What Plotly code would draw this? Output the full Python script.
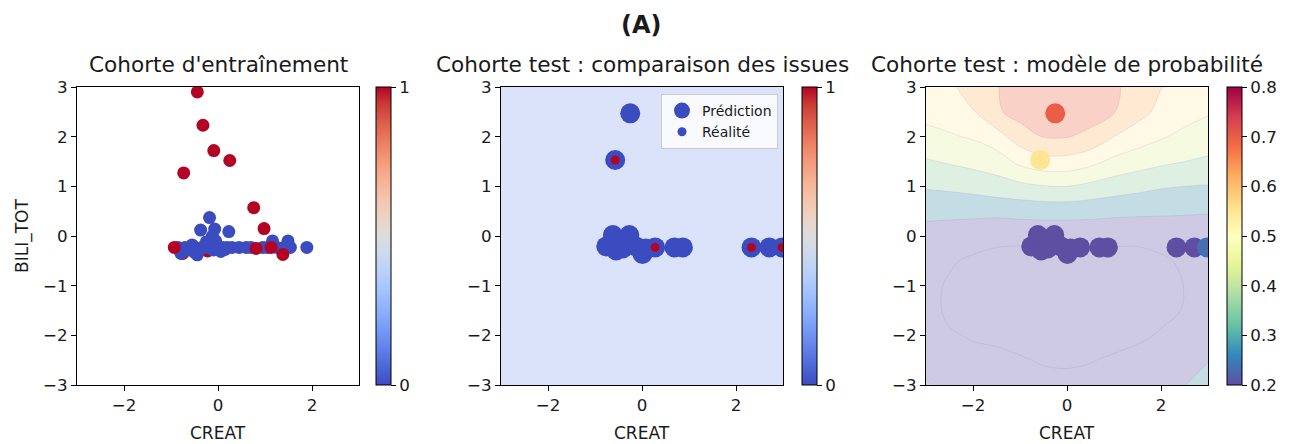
import numpy as np
import plotly.graph_objects as go

# ---------------- data ----------------
# Training cohort (CREAT, BILI_TOT standardised) and outcome (0/1)
train_creat = [-0.75, -0.22,
               -0.18, -0.37, -0.07, 0.23, -0.12, -0.25, -0.05, 1.16, 1.49, 1.89, 1.54,
               -0.79, -0.44, 0.06, -0.40, -0.65, -0.50, -0.10, 0.15, -0.55,
               -0.85, -0.70, -0.60, -0.50, -0.35, -0.30, -0.20, -0.10, 0.00, 0.10,
               0.20, 0.30, 0.45, 0.60, 0.70, 0.95, 1.05, 1.25, 1.40,
               -0.44, -0.32, -0.09, 0.25, -0.73, 0.76, 0.98, -0.93, 0.81, 1.13, 1.38]
train_bili = [-0.35, -0.30,
              0.37, 0.12, 0.14, 0.09, 0.00, -0.12, -0.10, -0.10, -0.10, -0.23, -0.23,
              -0.35, -0.38, -0.31, -0.29, -0.28, -0.33, -0.28, -0.27, -0.18,
              -0.23, -0.23, -0.23, -0.23, -0.23, -0.23, -0.23, -0.23, -0.23, -0.23,
              -0.23, -0.23, -0.23, -0.23, -0.23, -0.23, -0.23, -0.23, -0.23,
              2.90, 2.23, 1.72, 1.52, 1.27, 0.57, 0.15, -0.23, -0.25, -0.23, -0.37]
train_outcome = [1, 1,
                 0, 0, 0, 0, 0, 0, 0, 0, 0, 0, 0,
                 0, 0, 0, 0, 0, 0, 0, 0, 0,
                 0, 0, 0, 0, 0, 0, 0, 0, 0, 0,
                 0, 0, 0, 0, 0, 0, 0, 0, 0,
                 1, 1, 1, 1, 1, 1, 1, 1, 1, 1, 1]

# Test cohort
test_creat = [-0.25, -0.57, -0.76, -0.62, -0.27, -0.55, -0.41, -0.13, 0.01, 0.08,
              0.28, 0.69, 0.87, 2.33, 2.71, 2.98]
test_bili = [2.47, 1.53, -0.21, 0.02, 0.02, -0.29, -0.25, -0.21, -0.36, -0.25,
             -0.23, -0.23, -0.23, -0.23, -0.23, -0.23]
test_pred = [0, 0, 0, 0, 0, 0, 0, 0, 0, 0, 0, 0, 0, 0, 0, 0]
test_outcome = [0, 1, 0, 0, 0, 0, 0, 0, 0, 0, 1, 0, 0, 1, 0, 1]
test_prob = [0.70, 0.55, 0.15, 0.16, 0.16, 0.14, 0.14, 0.14, 0.13, 0.13,
             0.13, 0.14, 0.15, 0.19, 0.20, 0.235]

# Probability surface (model), estimated on a coarse grid
grid_creat = [-3.0, -2.5, -2.0, -1.5, -1.0, -0.5, 0.0, 0.5, 1.0, 1.5, 2.0, 2.5, 3.0]
grid_bili = [-3.0, -2.5, -2.0, -1.5, -1.0, -0.5, 0.0, 0.5, 1.0, 1.5, 2.0, 2.5, 3.0]
# one list per CREAT value, listed along BILI_TOT from -3 to 3
prob_by_creat = [
    [0.21, 0.16, 0.13, 0.12, 0.125, 0.14, 0.165, 0.225, 0.31, 0.39, 0.47, 0.53, 0.58],
    [0.17, 0.13, 0.105, 0.09, 0.09, 0.11, 0.155, 0.225, 0.32, 0.41, 0.49, 0.545, 0.585],
    [0.15, 0.115, 0.095, 0.075, 0.07, 0.085, 0.145, 0.225, 0.335, 0.43, 0.51, 0.595, 0.635],
    [0.16, 0.13, 0.075, 0.05, 0.045, 0.065, 0.13, 0.225, 0.36, 0.45, 0.56, 0.685, 0.695],
    [0.14, 0.11, 0.06, 0.04, 0.035, 0.058, 0.128, 0.235, 0.375, 0.525, 0.65, 0.74, 0.745],
    [0.135, 0.09, 0.045, 0.03, 0.03, 0.055, 0.128, 0.24, 0.395, 0.565, 0.705, 0.765, 0.775],
    [0.13, 0.085, 0.04, 0.03, 0.035, 0.055, 0.13, 0.24, 0.40, 0.565, 0.705, 0.76, 0.78],
    [0.135, 0.095, 0.045, 0.03, 0.035, 0.057, 0.13, 0.235, 0.375, 0.53, 0.675, 0.745, 0.76],
    [0.15, 0.115, 0.06, 0.04, 0.04, 0.06, 0.13, 0.225, 0.35, 0.475, 0.60, 0.705, 0.715],
    [0.165, 0.135, 0.08, 0.05, 0.045, 0.06, 0.13, 0.22, 0.33, 0.445, 0.55, 0.635, 0.665],
    [0.175, 0.15, 0.11, 0.075, 0.065, 0.085, 0.14, 0.215, 0.31, 0.42, 0.51, 0.575, 0.603],
    [0.197, 0.175, 0.135, 0.105, 0.102, 0.115, 0.15, 0.21, 0.30, 0.40, 0.475, 0.54, 0.58],
    [0.25, 0.195, 0.15, 0.13, 0.13, 0.14, 0.16, 0.205, 0.295, 0.385, 0.45, 0.51, 0.56],
]

x_ticks = [-2, 0, 2]
y_ticks = [-3, -2, -1, 0, 1, 2, 3]
prob_ticks = [0.2, 0.3, 0.4, 0.5, 0.6, 0.7, 0.8]

# ---------------- styles ----------------
W, H = 1298, 444
FONT = "DejaVu Sans"
TXT = "#1a1a1a"
TICK_SIZE = 16.7

coolwarm = [
    [0.0, "rgb(59,76,192)"], [0.0625, "rgb(77,104,215)"], [0.125, "rgb(98,130,234)"],
    [0.1875, "rgb(119,154,247)"], [0.25, "rgb(141,176,254)"], [0.3125, "rgb(163,194,255)"],
    [0.375, "rgb(184,208,249)"], [0.4375, "rgb(204,217,238)"], [0.5, "rgb(221,221,221)"],
    [0.5625, "rgb(236,211,197)"], [0.625, "rgb(245,196,173)"], [0.6875, "rgb(247,177,148)"],
    [0.75, "rgb(244,154,123)"], [0.8125, "rgb(236,127,99)"], [0.875, "rgb(222,96,77)"],
    [0.9375, "rgb(203,62,56)"], [1.0, "rgb(180,4,38)"],
]
spectral_r = ["#5e4fa2", "#3288bd", "#66c2a5", "#abdda4", "#e6f598", "#ffffbf",
              "#fee08b", "#fdae61", "#f46d43", "#d53e4f", "#9e0142"]
spectral_r_scale = [[i / 10, c] for i, c in enumerate(spectral_r)]

# filled contour bands (Spectral_r at alpha 0.3 over white), one per band
band_colors = ["rgb(206,202,227)", "rgb(206,202,227)", "rgb(196,221,229)",
               "rgb(221,240,226)", "rgb(245,250,224)", "rgb(255,249,230)",
               "rgb(254,234,210)", "rgb(250,209,198)"]
band_scale = [[k / (len(band_colors) - 1), c] for k, c in enumerate(band_colors)]


def px_x(p):
    return p / W


def px_y(p):
    return 1 - p / H


dom_x = [(77, 359), (501, 783), (926, 1208)]
dom_y = [px_y(385), px_y(87)]


def cbar(left, tickvals, ticktext=None):
    d = dict(x=px_x(left), xanchor="left", xpad=0, ypad=0,
             y=px_y(236), yanchor="middle", len=298 / H, lenmode="fraction",
             thickness=15, outlinewidth=1, outlinecolor="black",
             tickvals=tickvals, ticks="outside", ticklen=5, tickwidth=1,
             tickcolor="black", tickfont=dict(family=FONT, size=TICK_SIZE, color=TXT))
    if ticktext is not None:
        d["ticktext"] = ticktext
    return d


fig = go.Figure()

# ---- Panel 1: training cohort ----
fig.add_trace(go.Scatter(
    x=train_creat, y=train_bili, mode="markers", xaxis="x", yaxis="y",
    showlegend=False,
    marker=dict(size=13, color=train_outcome, colorscale=coolwarm, cmin=0, cmax=1,
                line=dict(width=0), showscale=True,
                colorbar=cbar(376, [0, 1], ["0", "1"]))))

# ---- Panel 2: test cohort, prediction vs reality ----
fig.add_trace(go.Scatter(
    x=test_creat, y=test_bili, mode="markers", xaxis="x2", yaxis="y2",
    name="Prédiction", showlegend=True,
    marker=dict(size=20, color=test_pred, colorscale=coolwarm, cmin=0, cmax=1,
                line=dict(width=0), showscale=True,
                colorbar=cbar(802, [0, 1], ["0", "1"]))))
fig.add_trace(go.Scatter(
    x=test_creat, y=test_bili, mode="markers", xaxis="x2", yaxis="y2",
    name="Réalité", showlegend=True,
    marker=dict(size=9, color=test_outcome, colorscale=coolwarm, cmin=0, cmax=1,
                line=dict(width=0), showscale=False)))

# ---- Panel 3: probability model ----
z = np.array(prob_by_creat).T
fig.add_trace(go.Contour(
    x=grid_creat, y=grid_bili, z=z, xaxis="x3", yaxis="y3",
    showscale=False, showlegend=False, hoverinfo="skip",
    colorscale=band_scale,
    contours=dict(start=0.1, end=0.7, size=0.1, coloring="fill", showlines=True),
    line=dict(width=0.6, color="rgba(110,100,170,0.22)", smoothing=1.0)))
fig.add_trace(go.Scatter(
    x=test_creat, y=test_bili, mode="markers", xaxis="x3", yaxis="y3",
    showlegend=False,
    marker=dict(size=20, color=test_prob, colorscale=spectral_r_scale, cmin=0.2, cmax=0.8,
                line=dict(width=0), showscale=True,
                colorbar=cbar(1227, prob_ticks, ["0.2", "0.3", "0.4", "0.5", "0.6", "0.7", "0.8"]))))


def xaxis(i):
    a, b = dom_x[i]
    return dict(domain=[px_x(a), px_x(b)], range=[-3, 3], tickvals=x_ticks,
                anchor="y" if i == 0 else f"y{i+1}", automargin=False,
                showline=True, mirror=True, linecolor="black", linewidth=1,
                ticks="outside", ticklen=5, tickwidth=1, tickcolor="black",
                showgrid=False, zeroline=False,
                tickfont=dict(family=FONT, size=TICK_SIZE, color=TXT))


def yaxis(i):
    return dict(domain=dom_y, range=[-3, 3], tickvals=y_ticks,
                anchor="x" if i == 0 else f"x{i+1}", automargin=False,
                showline=True, mirror=True, linecolor="black", linewidth=1,
                ticks="outside", ticklen=5, tickwidth=1, tickcolor="black",
                showgrid=False, zeroline=False,
                tickfont=dict(family=FONT, size=TICK_SIZE, color=TXT))


annotations = [
    dict(text="<b>(A)</b>", x=px_x(641), y=px_y(25), xref="paper", yref="paper",
         showarrow=False, xanchor="center", yanchor="middle",
         font=dict(family=FONT, size=24, color=TXT)),
]
titles = ["Cohorte d'entraînement", "Cohorte test : comparaison des issues",
          "Cohorte test : modèle de probabilité"]
for (a, b), t in zip(dom_x, titles):
    c = (a + b) / 2
    annotations.append(dict(text=t, x=px_x(c), y=px_y(65), xref="paper", yref="paper",
                            showarrow=False, xanchor="center", yanchor="middle",
                            font=dict(family=FONT, size=21.6, color=TXT)))
    annotations.append(dict(text="CREAT", x=px_x(c), y=px_y(433), xref="paper", yref="paper",
                            showarrow=False, xanchor="center", yanchor="middle",
                            font=dict(family=FONT, size=17, color=TXT)))
annotations.append(dict(text="BILI_TOT", x=px_x(22), y=px_y(236), xref="paper", yref="paper",
                        showarrow=False, xanchor="center", yanchor="middle", textangle=-90,
                        font=dict(family=FONT, size=17, color=TXT)))

fig.update_layout(
    width=W, height=H, margin=dict(l=0, r=0, t=0, b=0, pad=0), autosize=False,
    paper_bgcolor="white", plot_bgcolor="white",
    font=dict(family=FONT, size=16, color=TXT),
    xaxis=xaxis(0), yaxis=yaxis(0),
    xaxis2=xaxis(1), yaxis2=yaxis(1),
    xaxis3=xaxis(2), yaxis3=yaxis(2),
    annotations=annotations,
    shapes=[dict(type="rect", xref="x2 domain", yref="y2 domain", x0=0, x1=1, y0=0, y1=1,
                 fillcolor="rgb(218,227,249)", line=dict(width=0), layer="below")],
    legend=dict(x=px_x(778), xanchor="right", y=px_y(94), yanchor="top",
                bgcolor="rgba(255,255,255,0.8)", bordercolor="#cccccc", borderwidth=1,
                font=dict(family=FONT, size=14, color=TXT),
                itemsizing="trace", tracegroupgap=0),
)

fig.write_html("out.html", config={"displayModeBar": False, "responsive": False},
               post_script="document.body.style.margin='0';")
